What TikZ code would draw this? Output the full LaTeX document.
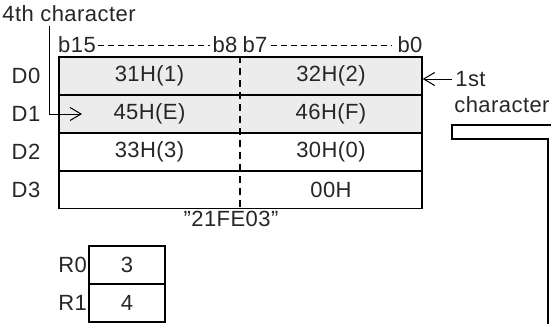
\documentclass[tikz,border=0pt]{standalone}
\usepackage{fontspec}
\setmainfont{Liberation Sans}[LetterSpace=2]
\usetikzlibrary{arrows.meta,positioning}
\tikzset{every picture/.style={line width=0.75pt}}
\tikzset{
  regrow/.style={draw, line width=1.4pt, minimum width=363pt, minimum height=38pt, inner sep=0pt},
  rcell/.style={draw, line width=1.4pt, minimum width=76pt, minimum height=38pt, inner sep=0pt,
    font=\fontsize{22}{25}\selectfont, text=black!85},
  lbl/.style={inner sep=0pt, font=\fontsize{22}{25}\selectfont, text=black!85},
  arr/.style={line width=1pt, -{Straight Barb[length=11pt,width=13pt]}},
  bitdash/.style={line width=0.8pt, dash pattern=on 6pt off 4pt},
}

\begin{document}
\begin{tikzpicture}[x=1pt,y=-1pt]
    \useasboundingbox (0,0) rectangle (551,324);

    % 数据寄存器 D0--D3
    \node[regrow, fill=gray!15] (row0) at (240.5,76) {};
    \node[regrow, fill=gray!15] (row1) at (240.5,114) {};
    \node[regrow] (row2) at (240.5,152) {};
    \node[regrow] (row3) at (240.5,189.5) {};

    % 高/低字节分界
    \draw[line width=1.4pt, dash pattern=on 7pt off 5pt] (row0.north -| 240,0) -- (row3.south -| 240,0);

    % 寄存器名
    \node[lbl] (d0) at (26,76) {D0};
    \node[lbl] (d1) at (26,114) {D1};
    \node[lbl] (d2) at (26,152) {D2};
    \node[lbl] (d3) at (26,189.5) {D3};

    % 内容
    \node[lbl] (c0h) at (149.5,76) {31H(1)};
    \node[lbl] (c0l) at (331,76) {32H(2)};
    \node[lbl] (c1h) at (149.5,114) {45H(E)};
    \node[lbl] (c1l) at (331,114) {46H(F)};
    \node[lbl] (c2h) at (149.5,152) {33H(3)};
    \node[lbl] (c2l) at (331,152) {30H(0)};
    \node[lbl] (c3l) at (331,189.5) {00H};

    % 位号
    \node[lbl] (b15) at (77,45) {b15};
    \node[lbl] (b8) at (225,45) {b8};
    \node[lbl] (b7) at (255,45) {b7};
    \node[lbl] (b0) at (410,45) {b0};
    \draw[bitdash] ([xshift=2pt]b15.east) -- ([xshift=-2pt]b8.west);
    \draw[bitdash] ([xshift=3pt]b7.east) -- ([xshift=-6pt]b0.west);

    % 第4个字符
    \node[lbl, anchor=west] (fourth) at (2,14) {4th character};
    \coordinate (bend) at (49,114);
    \coordinate (tip4) at (82,114);
    \draw[arr] ([yshift=-4pt]fourth.south -| bend) -- (bend) -- (tip4);

    % 第1个字符
    \node[lbl, anchor=west] (first) at (455,79) {1st};
    \node[lbl, anchor=west] (firstb) at (454,105) {character};
    \draw[arr, shorten <=3pt] (first.west) -- (first.west -| row0.east);

    % 字符串
    \node[lbl] (str) at (231,219) {\char34 21FE03\char34};

    % R0, R1
    \node[rcell] (r0v) at (127,265) {3};
    \node[rcell] (r1v) at (127,303) {4};
    \node[lbl, anchor=east] (r0) at ([xshift=-1pt]r0v.west) {R0};
    \node[lbl, anchor=east] (r1) at ([xshift=-1pt]r1v.west) {R1};

    % 右侧框
    \draw[line width=1.4pt] (551,125) -- (452,125) -- (452,139) -- (548,139) -- (548,324);
\end{tikzpicture}
\end{document}
